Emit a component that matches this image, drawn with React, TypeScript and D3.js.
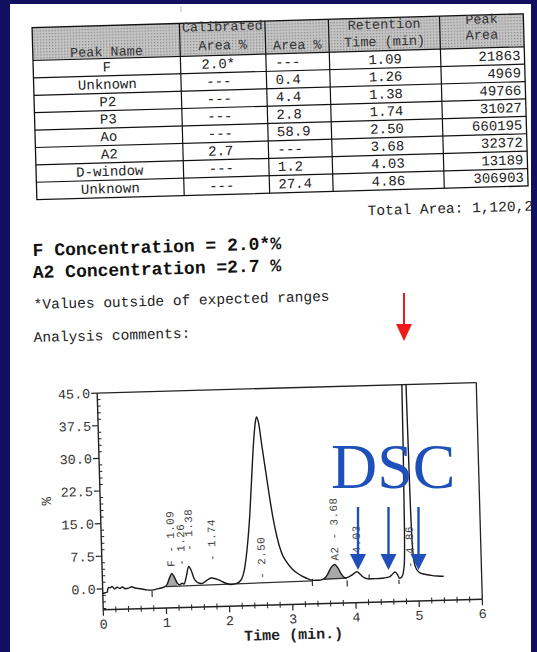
import React from "react";
import * as d3 from "d3";

// ---- table data ----
const tableHeaders = [["Peak Name"], ["Calibrated", "Area %"], ["Area %"], ["Retention", "Time (min)"], ["Peak", "Area"]];
const peakNames = ["F", "Unknown", "P2", "P3", "Ao", "A2", "D-window", "Unknown"];
const calibratedArea = ["2.0*", "---", "---", "---", "---", "2.7", "---", "---"];
const areaPct = ["---", "0.4", "4.4", "2.8", "58.9", "---", "1.2", "27.4"];
const retentionTimes = ["1.09", "1.26", "1.38", "1.74", "2.50", "3.68", "4.03", "4.86"];
const peakAreas = ["21863", "4969", "49766", "31027", "660195", "32372", "13189", "306903"];

// ---- chromatogram data (time min, signal %) ----
const trace: [number, number][] = [
  [0.0, -1.0], [0.04, -0.9], [0.07, -0.8], [0.09, 0.3], [0.12, 0.2], [0.15, 0.5], [0.19, -0.1],
  [0.23, 0.3], [0.27, 0.0], [0.31, 0.3], [0.36, -0.1], [0.41, 0.0], [0.46, 0.3], [0.51, 0.0],
  [0.6, -0.2], [0.7, -0.5], [0.78, -0.6], [0.88, -0.3], [0.97, 0.0],
  [1.02, 0.6], [1.06, 2.0], [1.1, 3.1], [1.14, 2.2], [1.18, 0.9], [1.22, 0.4], [1.26, 0.8],
  [1.29, 0.6], [1.33, 2.4], [1.37, 4.6], [1.41, 3.6], [1.45, 1.8], [1.5, 0.9], [1.57, 0.6],
  [1.64, 1.2], [1.72, 1.8], [1.79, 1.6], [1.87, 1.1], [1.95, 0.5], [2.03, 0.2], [2.12, 0.4],
  [2.19, 1.1], [2.25, 3.5], [2.3, 8], [2.35, 14.5], [2.4, 23.5], [2.45, 32.5], [2.49, 37.5],
  [2.51, 38.5], [2.54, 37], [2.58, 32], [2.63, 26], [2.68, 20], [2.73, 14.8], [2.78, 10.8],
  [2.84, 7.4], [2.92, 5.0], [3.01, 3.3], [3.11, 2.1], [3.22, 1.2], [3.33, 0.6], [3.43, 0.6],
  [3.5, 0.9], [3.56, 1.8], [3.62, 3.4], [3.68, 4.1], [3.73, 3.3], [3.78, 1.9], [3.84, 1.0],
  [3.9, 1.2], [3.97, 1.8], [4.03, 2.3], [4.08, 1.7], [4.14, 0.9], [4.21, 0.6], [4.32, 0.6],
  [4.45, 0.7], [4.54, 0.9], [4.59, 1.5], [4.63, 2.0], [4.67, 1.4], [4.7, 0.5], [4.74, 0.9],
  [4.78, 3.5], [4.8, 12], [4.815, 30], [4.83, 58], [4.86, 64], [4.885, 50], [4.9, 22],
  [4.915, 9], [4.935, 4.5], [4.97, 2.6], [5.02, 1.7], [5.1, 1.3], [5.2, 1.0], [5.3, 0.8], [5.4, 0.7],
];

const yTickValues = [0, 7.5, 15, 22.5, 30, 37.5, 45];
const xTickValues = [0, 1, 2, 3, 4, 5, 6];

const peakLabels = [
  { t: 1.09, v: 4.6, text: "F - 1.09" },
  { t: 1.25, v: 4.8, text: "- 1.26" },
  { t: 1.38, v: 8.2, text: "- 1.38" },
  { t: 1.74, v: 5.7, text: "- 1.74" },
  { t: 2.52, v: 1.3, text: "- 2.50" },
  { t: 3.68, v: 5.0, text: "A2 - 3.68" },
  { t: 4.03, v: 3.3, text: "- 4.03" },
  { t: 4.87, v: 2.8, text: "- 4.86" },
];

// integration baselines [t0, v0, t1, v1]
const baselines = [
  [1.0, 0.1, 3.33, 0.5],
  [3.5, 0.8, 3.87, 0.9],
];
// shaded peaks: [from, to, baseline index]
const shadedPeaks = [
  [1.0, 1.19, 0],
  [3.5, 3.86, 1],
];
// event marks [t, v0, v1]
const eventMarks = [
  [0.78, -2.2, -0.8],
  [3.32, -0.7, 1.0],
  [3.87, -1.0, 0.4],
  [4.22, 0.4, 1.6],
  [4.69, -0.8, 0.2],
];

const MONO = "'Liberation Mono', 'Courier New', monospace";
const INK = "#222";

export default function App() {
  const x = d3.scaleLinear().domain([0, 6]).range([95.5, 474.7]);
  const y = d3.scaleLinear().domain([-4.8, 45]).range([605, 388.3]);

  const line = d3
    .line<[number, number]>()
    .x((d) => x(d[0]))
    .y((d) => y(d[1]))
    .curve(d3.curveMonotoneX);

  const minorY = d3.range(-4.5, 45.001, 1.5).filter((v) => !yTickValues.some((m) => Math.abs(m - v) < 0.01));
  const minorX = d3.range(0, 6.001, 0.2).filter((v) => Math.abs(v - Math.round(v)) > 0.01);

  // table layout
  const colX = [40.6, 188, 273.5, 337, 448.2, 532];
  const tTop = 21;
  const tHead = 54;
  const rowH = 17.4;
  const tBottom = tHead + rowH * peakNames.length;
  const headerBaselines = [[51.5], [29.5, 48], [50], [32, 49], [29.5, 45]];
  const columns = [peakNames, calibratedArea, areaPct, retentionTimes, peakAreas];

  const cellText = (col: number) => {
    const x0 = colX[col];
    const x1 = colX[col + 1];
    if (col === 2) return { x: x0 + 9, anchor: "start" };
    if (col === 4) return { x: x1 - 4, anchor: "end" };
    if (col === 1) return { x: (x0 + x1) / 2 - 5, anchor: "middle" };
    return { x: (x0 + x1) / 2, anchor: "middle" };
  };

  const shadeArea = (from: number, to: number, bi: number) => {
    const [t0, v0, t1, v1] = baselines[bi];
    const base = (t: number) => v0 + ((t - t0) * (v1 - v0)) / (t1 - t0);
    const pts = trace.filter((d) => d[0] >= from && d[0] <= to);
    return d3
      .area<[number, number]>()
      .x((d) => x(d[0]))
      .y0((d) => y(base(d[0])))
      .y1((d) => y(d[1]))
      .curve(d3.curveMonotoneX)(pts);
  };

  return (
    <svg width={537} height={652} style={{ position: "absolute", left: 0, top: 0 }}>
      <defs>
        <clipPath id="paper">
          <rect x={10} y={4} width={521} height={648} />
        </clipPath>
        <clipPath id="plot">
          <rect x={x(0)} y={y(45)} width={x(6) - x(0)} height={y(-4.8) - y(45)} />
        </clipPath>
        <pattern id="hdr" width={3} height={3} patternUnits="userSpaceOnUse">
          <rect width={3} height={3} fill="#c6c6c6" />
          <rect width={1.3} height={1.3} fill="#878787" />
        </pattern>
      </defs>

      <rect width={537} height={652} fill="#110f5f" />
      <rect x={10} y={4} width={521} height={648} fill="#fff" />

      <g clipPath="url(#paper)">
        <line x1={181} y1={6} x2={181} y2={12} stroke="#bbb" strokeWidth={1} />
        <g transform="rotate(-1.6 270 330)">
          {/* table */}
          <rect x={colX[0]} y={tTop} width={colX[5] - colX[0]} height={tHead - tTop} fill="url(#hdr)" />
          <rect x={colX[0]} y={tTop} width={colX[5] - colX[0]} height={tBottom - tTop} fill="none" stroke="#111" strokeWidth={1.3} />
          {colX.slice(1, 5).map((cx, i) => (
            <line key={"cv" + i} x1={cx} y1={tTop} x2={cx} y2={tBottom} stroke="#111" strokeWidth={1.2} />
          ))}
          {d3.range(peakNames.length).map((i) => (
            <line key={"rh" + i} x1={colX[0]} y1={tHead + i * rowH} x2={colX[5]} y2={tHead + i * rowH} stroke="#111" strokeWidth={1.2} />
          ))}
          {tableHeaders.map((lines, c) =>
            lines.map((txt, j) => (
              <text
                key={"h" + c + j}
                x={(colX[c] + colX[c + 1]) / 2}
                y={headerBaselines[c][j]}
                textAnchor="middle"
                fontFamily={MONO}
                fontSize={13.5}
                fill="#333"
              >
                {txt}
              </text>
            ))
          )}
          {columns.map((vals, c) =>
            vals.map((v, r) => {
              const p = cellText(c);
              return (
                <text
                  key={"c" + c + r}
                  x={p.x}
                  y={tHead + r * rowH + 13}
                  textAnchor={p.anchor as any}
                  fontFamily={MONO}
                  fontSize={14}
                  fill={INK}
                >
                  {v}
                </text>
              );
            })
          )}
          <text x={371} y={218} fontFamily={MONO} fontSize={14.5} fill={INK}>
            Total Area: 1,120,2
          </text>

          {/* text block */}
          <text x={35} y={249.5} fontFamily={MONO} fontSize={18} fontWeight="bold" fill="#111">
            F Concentration = 2.0*%
          </text>
          <text x={34.5} y={271.5} fontFamily={MONO} fontSize={18} fontWeight="bold" fill="#111">
            A2 Concentration =2.7 %
          </text>
          <text x={34.5} y={302.5} fontFamily={MONO} fontSize={14.5} fill={INK}>
            *Values outside of expected ranges
          </text>
          <text x={33.6} y={335.5} fontFamily={MONO} fontSize={14.5} fill={INK}>
            Analysis comments:
          </text>

          {/* chromatogram frame & axes */}
          <g stroke="#222" fill="none">
            <line x1={x(0)} y1={y(45)} x2={x(6)} y2={y(45)} strokeWidth={1.3} />
            <line x1={x(6)} y1={y(45)} x2={x(6)} y2={y(-4.8)} strokeWidth={1.3} />
            <line x1={x(0)} y1={y(45)} x2={x(0)} y2={y(-4.8)} strokeWidth={1.4} />
            <line x1={x(0)} y1={y(-4.8)} x2={x(6)} y2={y(-4.8)} strokeWidth={1.4} />
            {yTickValues.map((v) => (
              <line key={"ym" + v} x1={x(0) - 6} y1={y(v)} x2={x(0)} y2={y(v)} strokeWidth={1.2} />
            ))}
            {minorY.map((v) => (
              <line key={"yn" + v} x1={x(0)} y1={y(v)} x2={x(0) + 3} y2={y(v)} strokeWidth={1} />
            ))}
            {xTickValues.map((t) => (
              <line key={"xm" + t} x1={x(t)} y1={y(-4.8)} x2={x(t)} y2={y(-4.8) + 6} strokeWidth={1.2} />
            ))}
            {minorX.map((t) => (
              <line key={"xn" + t} x1={x(t)} y1={y(-4.8) - 3} x2={x(t)} y2={y(-4.8) + 3} strokeWidth={1} />
            ))}
          </g>
          {yTickValues.map((v) => (
            <text key={"yl" + v} x={x(0) - 7} y={y(v)} dy="0.35em" textAnchor="end" fontFamily={MONO} fontSize={13.5} fill="#333">
              {v.toFixed(1)}
            </text>
          ))}
          {xTickValues.map((t) => (
            <text key={"xl" + t} x={x(t)} y={y(-4.8) + 19} textAnchor="middle" fontFamily={MONO} fontSize={13.5} fill="#333">
              {t}
            </text>
          ))}
          <text
            transform={`translate(41.2,${y(20.5)}) rotate(-90)`}
            dy="0.35em"
            textAnchor="middle"
            fontFamily={MONO}
            fontSize={14}
            fill="#333"
          >
            %
          </text>
          <text x={x(3)} y={640} textAnchor="middle" fontFamily={MONO} fontSize={15} fontWeight="bold" fill="#222">
            Time (min.)
          </text>

          {/* shaded peaks */}
          {shadedPeaks.map(([a, b, bi], i) => (
            <path key={"sh" + i} d={shadeArea(a, b, bi) || ""} fill="#a9a9a9" />
          ))}
          {baselines.map(([t0, v0, t1, v1], i) => (
            <line key={"bl" + i} x1={x(t0)} y1={y(v0)} x2={x(t1)} y2={y(v1)} stroke="#333" strokeWidth={1.3} />
          ))}
          {eventMarks.map(([t, v0, v1], i) => (
            <line key={"ev" + i} x1={x(t)} y1={y(v0)} x2={x(t)} y2={y(v1)} stroke="#333" strokeWidth={1.2} />
          ))}

          {/* trace */}
          <path d={line(trace) || ""} fill="none" stroke="#1a1a1a" strokeWidth={1.4} clipPath="url(#plot)" />

          {/* peak labels */}
          {peakLabels.map((p, i) => (
            <text
              key={"pl" + i}
              transform={`translate(${x(p.t)},${y(p.v)}) rotate(-90)`}
              dy="0.35em"
              fontFamily={MONO}
              fontSize={11}
              letterSpacing={0.4}
              fill="#444"
            >
              {p.text}
            </text>
          ))}
        </g>
      </g>

      {/* overlay annotations */}
      <text x={331} y={488} fontFamily="'Liberation Serif', 'Times New Roman', serif" fontSize={64} fill="#1f4fb8">
        DSC
      </text>
      {[358, 388.5, 418.5].map((ax) => (
        <g key={"ar" + ax} fill="#1f4fb8">
          <rect x={ax - 1.2} y={507} width={2.4} height={49} />
          <polygon points={`${ax - 8},${554} ${ax + 8},${554} ${ax},${570}`} />
        </g>
      ))}
      <g fill="#ee1b1b">
        <rect x={403} y={293} width={2} height={33} />
        <polygon points="396,324 412,324 404,341" />
      </g>
    </svg>
  );
}
